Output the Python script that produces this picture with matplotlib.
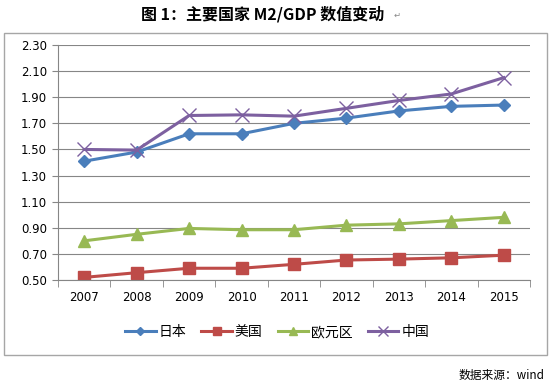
import matplotlib.pyplot as plt
from matplotlib.patches import Rectangle

plt.rcParams['font.family'] = ['Noto Sans CJK SC', 'DejaVu Sans']

years = ['2007', '2008', '2009', '2010', '2011', '2012', '2013', '2014', '2015']
japan = [1.41, 1.48, 1.62, 1.62, 1.70, 1.74, 1.795, 1.83, 1.84]
usa = [0.52, 0.556, 0.59, 0.59, 0.62, 0.653, 0.66, 0.67, 0.69]
euro = [0.80, 0.85, 0.895, 0.885, 0.885, 0.92, 0.93, 0.955, 0.98]
china = [1.50, 1.495, 1.76, 1.765, 1.755, 1.815, 1.875, 1.925, 2.05]
yticks = [0.50, 0.70, 0.90, 1.10, 1.30, 1.50, 1.70, 1.90, 2.10, 2.30]

fig = plt.figure(figsize=(5.5, 3.84), dpi=100)
fig.patches.append(Rectangle((4 / 550, 29 / 384), 543 / 550, 322 / 384,
                             transform=fig.transFigure, fill=False,
                             edgecolor='#a6a6a6', linewidth=1))

ax = fig.add_axes([58 / 550, 104 / 384, 472 / 550, 235 / 384])
x = range(len(years))
ax.plot(x, japan, color='#4a7ebb', lw=2.2, marker='D', ms=6, label='日本')
ax.plot(x, usa, color='#be4b48', lw=2.2, marker='s', ms=8, label='美国')
ax.plot(x, euro, color='#98b954', lw=2.2, marker='^', ms=9, label='欧元区')
ax.plot(x, china, color='#7d60a0', lw=2.2, marker='x', ms=10, mew=1, label='中国')

ax.set_xlim(-0.5, len(years) - 0.5)
ax.set_ylim(0.5, 2.3)
ax.set_yticks(yticks)
ax.set_yticklabels([f'{v:.2f}' for v in yticks], fontsize=8.5, family='DejaVu Sans')
ax.set_xticks(x)
ax.set_xticklabels(years, fontsize=8.5, family='DejaVu Sans')
ax.set_xticks([i - 0.5 for i in range(len(years) + 1)], minor=True)
ax.tick_params(axis='x', which='major', length=0, pad=8)
ax.tick_params(axis='x', which='minor', length=5, color='#868686')
ax.tick_params(axis='y', length=4, color='#868686', pad=4)
ax.yaxis.grid(True, color='#868686', lw=0.8)
ax.set_axisbelow(True)
for s in ['top', 'right']:
    ax.spines[s].set_visible(False)
for s in ['left', 'bottom']:
    ax.spines[s].set_color('#868686')

fig.legend(loc='center', bbox_to_anchor=(277 / 550, 1 - 332 / 384), ncol=4,
           frameon=False, fontsize=10, handlelength=2.2, columnspacing=1.1,
           handletextpad=0.2, markerscale=0.65)

fig.text(263 / 550, 1 - 14 / 384, '图 1：主要国家 M2/GDP 数值变动', ha='center',
         va='center', fontsize=11.5, fontweight='bold')
fig.text(394 / 550, 1 - 15 / 384, '↵', ha='left', va='center', fontsize=6,
         color='#888888', family='DejaVu Sans')
fig.text(0.99, 1 - 375 / 384, '数据来源：wind', ha='right', va='center',
         fontsize=8.5)

fig.savefig('out.png', dpi=100)
